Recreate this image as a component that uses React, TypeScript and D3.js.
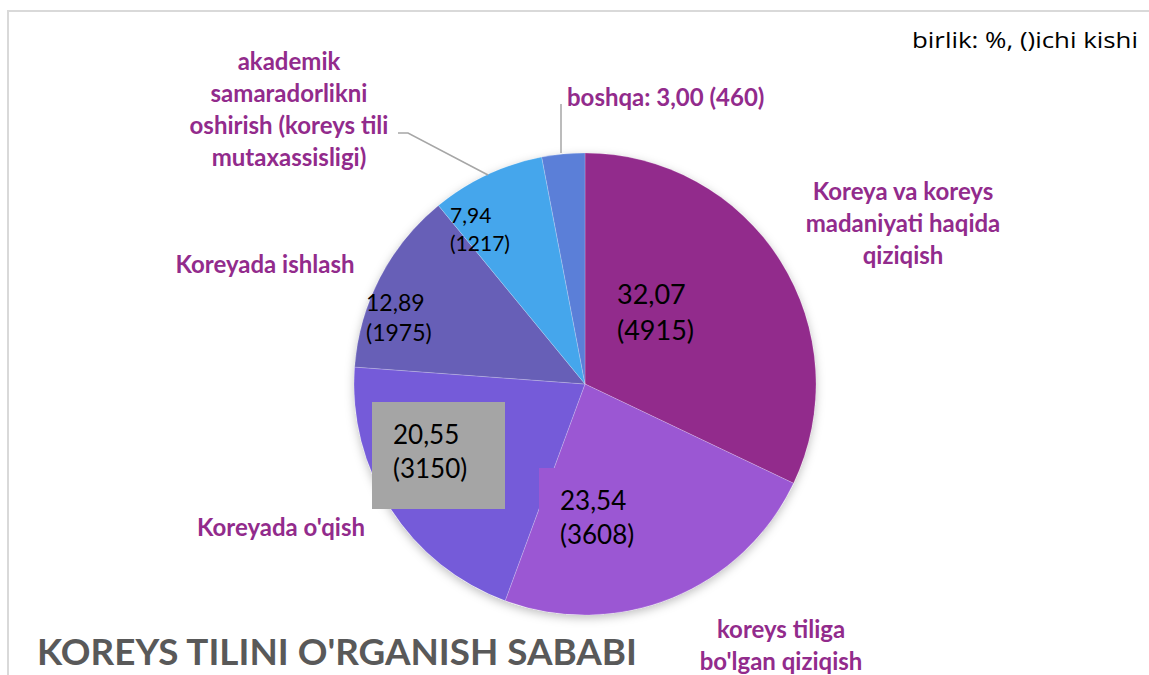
import React from "react";
import * as d3 from "d3";

const categories = [
  "Koreya va koreys madaniyati haqida qiziqish",
  "koreys tiliga bo'lgan qiziqish",
  "Koreyada o'qish",
  "Koreyada ishlash",
  "akademik samaradorlikni oshirish (koreys tili mutaxassisligi)",
  "boshqa",
];
const percents = [32.07, 23.54, 20.55, 12.89, 7.94, 3.0];
const counts = [4915, 3608, 3150, 1975, 1217, 460];
const colors = ["#922B8C", "#9B57D3", "#755BD9", "#675FB7", "#45A6EC", "#5B7FD8"];

const title = "KOREYS TILINI O'RGANISH SABABI";
const unitNote = "birlik: %, ()ichi kishi";

const W = 1149;
const H = 675;
const cx = 585;
const cy = 384;
const R = 231;

const fmt = (v: number) => v.toFixed(2).replace(".", ",");

const FONT = "Lato, 'Open Sans', sans-serif";
const LABEL_COLOR = "#922B8C";

export default function App() {
  const pie = d3
    .pie<number>()
    .sort(null)
    .startAngle(0)
    .endAngle(2 * Math.PI)
    .value((d) => d);
  const arcs = pie(percents);
  const arc = d3.arc<d3.PieArcDatum<number>>().innerRadius(0).outerRadius(R);

  // value label layout (positions, sizes, box)
  const valueLabels = [
    { x: 617, y: 304, size: 27, box: null },
    { x: 560, y: 510, size: 26, box: { x: 539, y: 468, w: 112, h: 90, fill: colors[1] } },
    { x: 393, y: 444, size: 26, box: { x: 372, y: 402, w: 133, h: 107, fill: "#A5A5A5" } },
    { x: 366, y: 311, size: 23, box: null },
    { x: 450, y: 223, size: 21, box: null },
  ];

  // category label layout
  const catLabels = [
    { x: 903, y: 200, anchor: "middle", lines: ["Koreya va koreys", "madaniyati haqida", "qiziqish"] },
    { x: 781, y: 638, anchor: "middle", lines: ["koreys tiliga", "bo'lgan qiziqish"] },
    { x: 281, y: 536, anchor: "middle", lines: ["Koreyada o'qish"] },
    { x: 265, y: 273, anchor: "middle", lines: ["Koreyada ishlash"] },
    {
      x: 289,
      y: 70,
      anchor: "middle",
      lines: ["akademik", "samaradorlikni", "oshirish (koreys tili", "mutaxassisligi)"],
    },
    { x: 567, y: 106, anchor: "start", lines: [`${categories[5]}: ${fmt(percents[5])} (${counts[5]})`] },
  ];

  const leaderAkademik = [
    [398, 133],
    [408, 133],
    [488, 175],
  ];
  const leaderBoshqa = [
    [561, 104],
    [561, 153],
  ];
  const line = d3.line();

  return (
    <svg
      width={W}
      height={H}
      style={{ position: "absolute", left: 0, top: 0, background: "#fff" }}
      fontFamily={FONT}
    >
      <defs>
        <filter id="sh" x="-20%" y="-20%" width="140%" height="140%">
          <feDropShadow dx="0" dy="3" stdDeviation="5" floodColor="#000" floodOpacity="0.25" />
        </filter>
      </defs>
      {/* chart border */}
      <path d={`M8,${H} L8,11 L${W},11`} fill="none" stroke="#D9D9D9" strokeWidth={2} />

      <text x={1138} y={48} textAnchor="end" fontSize={22} fill="#000" fontFamily="'Open Sans', sans-serif" textLength={226} lengthAdjust="spacingAndGlyphs">
        {unitNote}
      </text>

      <g transform={`translate(${cx},${cy})`}>
        <circle r={R} fill="#fff" filter="url(#sh)" />
        {arcs.map((a, i) => (
          <path key={i} d={arc(a) || ""} fill={colors[i]} stroke="#ffffff" strokeOpacity={0.25} strokeWidth={0.8} />
        ))}
      </g>

      {/* leader lines */}
      <path d={line(leaderAkademik as [number, number][]) || ""} fill="none" stroke="#A6A6A6" strokeWidth={1.5} />
      <path d={line(leaderBoshqa as [number, number][]) || ""} fill="none" stroke="#A6A6A6" strokeWidth={1.5} />

      {/* value labels */}
      {valueLabels.map((v, i) => (
        <g key={i}>
          {v.box && <rect x={v.box.x} y={v.box.y} width={v.box.w} height={v.box.h} fill={v.box.fill} />}
          <text x={v.x} y={v.y} fontSize={v.size} fill="#000">
            <tspan x={v.x}>{fmt(percents[i])}</tspan>
            <tspan x={v.x} dy={v.size * 1.32}>{`(${counts[i]})`}</tspan>
          </text>
        </g>
      ))}

      {/* category labels */}
      {catLabels.map((c, i) => (
        <text key={i} x={c.x} y={c.y} textAnchor={c.anchor as any} fontSize={24} fontWeight="bold" fill={LABEL_COLOR}>
          {c.lines.map((l, j) => (
            <tspan key={j} x={c.x} dy={j === 0 ? 0 : 32}>
              {l}
            </tspan>
          ))}
        </text>
      ))}

      <text x={37} y={665} fontSize={36} fontWeight="bold" fill="#595959" textLength={600} lengthAdjust="spacingAndGlyphs">
        {title}
      </text>
    </svg>
  );
}
